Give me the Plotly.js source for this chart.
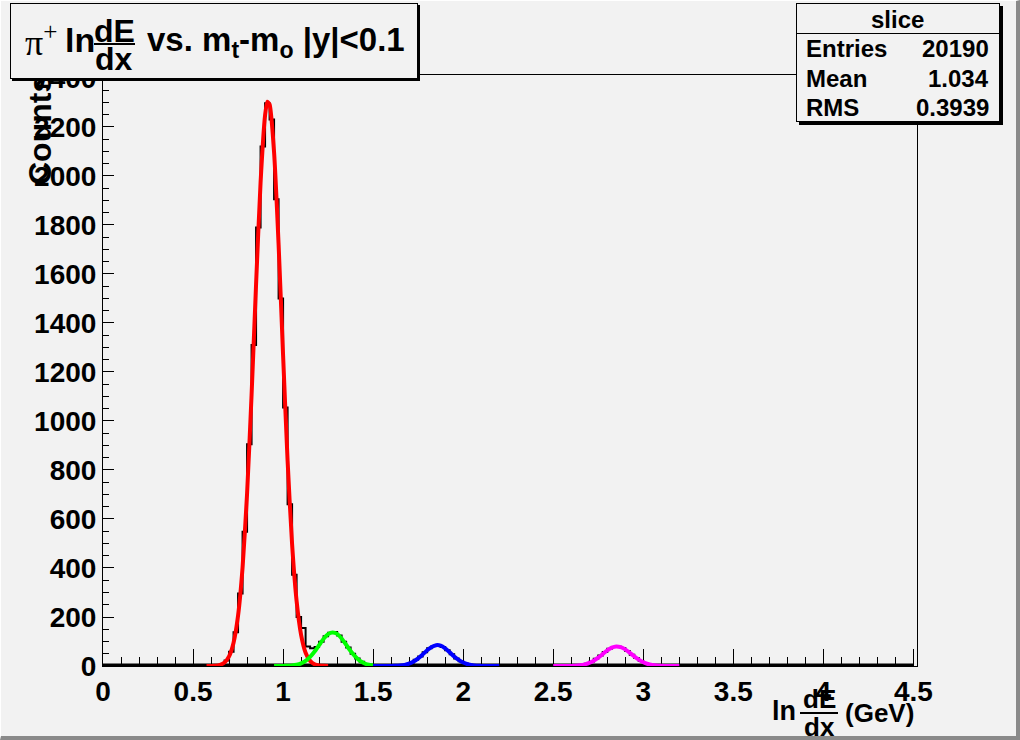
<!DOCTYPE html>
<html>
<head>
<meta charset="utf-8">
<script src="https://cdn.plot.ly/plotly-3.0.1.min.js"></script>
<style>
  html, body { margin:0; padding:0; background:#f2f2f2; }
  #wrap { position:relative; width:1020px; height:740px; overflow:hidden; }
  #chart { width:1020px; height:740px; }
  #bevel { position:absolute; left:0; top:0; width:1020px; height:740px; box-sizing:border-box;
           border-right:4px solid #8a8a8a; border-bottom:4px solid #8a8a8a;
           border-top:1px solid #ffffff; border-left:1px solid #ffffff; pointer-events:none; }
</style>
</head>
<body>
<div id="wrap"><div id="chart"></div><div id="bevel"></div></div>
<script>
// ---------------- data ----------------
// histogram "slice": bin width 0.025, counts for consecutive bins starting at histStart
const binWidth = 0.025;
const histStart = 0.5;
const histEnd = 4.5;
const histCounts = [
  0, 0, 0, 1, 1, 3, 7, 22, 58, 138,                 // 0.500 .. 0.725
  296, 548, 905, 1310, 1790, 2120, 2297, 2230, 1905, 1500, // 0.750 .. 0.975
  1055, 660, 372, 200, 155, 80, 72, 78, 99, 121,    // 1.000 .. 1.225
  136, 139, 124, 99, 76, 50, 31, 17, 8, 4,          // 1.250 .. 1.475
  2, 1, 0, 0, 1, 1, 3, 7, 13, 25,                   // 1.500 .. 1.725
  39, 56, 72, 82, 86, 78, 64, 48, 31, 19,           // 1.750 .. 1.975
  10, 5, 2, 1, 0, 0, 1, 0, 0, 1,                    // 2.000 .. 2.225
  0, 0, 1, 0, 0, 1, 0, 0, 1, 0,                     // 2.250 .. 2.475
  0, 1, 0, 0, 1, 2, 4, 9, 17, 30,                   // 2.500 .. 2.725
  43, 57, 70, 78, 79, 73, 61, 46, 33, 20,           // 2.750 .. 2.975
  11, 6, 3, 1, 1, 0, 0, 1, 0, 0                     // 3.000 .. 3.225
];

// Gaussian fit curves (sampled from the drawn curves)
const redX = [0.575,0.6,0.625,0.65,0.675,0.7,0.725,0.75,0.775,0.8,0.825,0.85,0.875,0.9,0.9125,0.925,0.95,0.975,1.0,1.025,1.05,1.075,1.1,1.125,1.15,1.175,1.2,1.225,1.25];
const redY = [0,0.4,1.4,4.8,14,39,95,206,402,703,1106,1559,1974,2248,2303,2292,2096,1721,1268,838,497,265,127,54,21,7,2.2,0.6,0.1];

const greenX = [0.95,0.975,1.0,1.025,1.05,1.075,1.1,1.125,1.15,1.175,1.2,1.225,1.25,1.275,1.3,1.325,1.35,1.375,1.4,1.425,1.45,1.475,1.5];
const greenY = [0,0.1,0.3,0.8,2.1,5,10.7,21,37,59,85,111,130,137,131,112,87,61,39,22,11,5,2.2];

const blueX = [1.5,1.525,1.55,1.575,1.6,1.625,1.65,1.675,1.7,1.725,1.75,1.775,1.8,1.825,1.85,1.875,1.9,1.925,1.95,1.975,2.0,2.025,2.05,2.075,2.1,2.125,2.15,2.175,2.2];
const blueY = [0,0,0,0.1,0.2,0.7,1.9,4.5,9.5,18,31,47,64,78,85,83,72,56,39,25,14,7,3.1,1.2,0.5,0.1,0,0,0];

const magentaX = [2.5,2.525,2.55,2.575,2.6,2.625,2.65,2.675,2.7,2.725,2.75,2.775,2.8,2.825,2.85,2.875,2.9,2.925,2.95,2.975,3.0,3.025,3.05,3.075,3.1,3.125,3.15,3.175,3.2];
const magentaY = [0,0,0.1,0.2,0.5,1.3,3.1,6.6,12.6,21.8,34,49,64,75,80,77,68,54,39,26,15,8,4,1.8,0.7,0.3,0.1,0,0];

const statsLabels = ["Entries", "Mean", "RMS"];
const statsValues = ["20190", "1.034", "0.3939"];
const statsName = "slice";

// ---------------- build histogram step line ----------------
const hx = [], hy = [];
const nBins = Math.round(histEnd / binWidth);
const startIdx = Math.round(histStart / binWidth);
for (let i = 0; i < nBins; i++) {
  const k = i - startIdx;
  const c = (k >= 0 && k < histCounts.length) ? histCounts[k] : 0;
  hx.push(+(i * binWidth).toFixed(4));
  hy.push(c);
}
hx.push(histEnd); hy.push(hy[hy.length - 1]);

// ---------------- layout helpers ----------------
const L = 103, R = 917, T = 75, B = 666;
const PW = R - L, PH = B - T;
const FONT = "Liberation Sans, Arial, Helvetica, sans-serif";
function px(x) { return (x - L) / PW; }
function py(y) { return (B - y) / PH; }
function txt(x, y, text, size, opts) {
  return Object.assign({
    xref: 'paper', yref: 'paper', x: px(x), y: py(y), text: text, showarrow: false,
    xanchor: 'center', yanchor: 'middle',
    font: { family: FONT, size: size, color: 'black', weight: 'bold' }
  }, opts || {});
}
function rect(left, top, right, bottom, bg, bw) {
  return {
    xref: 'paper', yref: 'paper', x: px(left), y: py(top), xanchor: 'left', yanchor: 'top',
    text: ' ', showarrow: false, font: { size: 1, family: FONT },
    width: Math.max(1, right - left - 2 * bw), height: Math.max(1, bottom - top - 2 * bw),
    bgcolor: bg, bordercolor: 'black', borderwidth: bw, borderpad: 0
  };
}

const annotations = [
  // y-axis title (partly hidden by the title box)
  txt(40, 73, 'Counts', 32, { textangle: -90, yanchor: 'top' }),
  // title box with shadow
  rect(12, 5, 420, 81, 'black', 0),
  rect(10, 3, 418, 79, '#f2f2f2', 1),
  txt(23, 41, 'π<sup>+</sup>', 34, { xanchor: 'left', font: { family: 'Liberation Serif, Times New Roman, serif', size: 36, color: 'black' } }),
  txt(63, 40, 'ln', 34, { xanchor: 'left' }),
  txt(114, 31, 'dE', 32),
  rect(94, 43, 135, 45, 'black', 0),
  txt(114, 59, 'dx', 32),
  txt(145, 42, 'vs. m<sub>t</sub>-m<sub>o</sub> |y|&lt;0.1', 33, { xanchor: 'left' }),
  // stats box with shadow
  rect(799, 6, 1003, 125, 'black', 0),
  rect(796, 3, 1000, 122, '#f2f2f2', 1),
  rect(796, 33, 1000, 34, 'black', 0),
  txt(897, 19, statsName, 24),
  // x-axis title
  txt(770, 711, 'ln', 27, { xanchor: 'left' }),
  txt(819, 699, 'dE', 26),
  txt(819, 727, 'dx', 26),
  txt(843, 713, '(GeV)', 26, { xanchor: 'left' })
];
const rowY = [49, 79, 108];
for (let i = 0; i < statsLabels.length; i++) {
  annotations.push(txt(804, rowY[i], statsLabels[i], 24, { xanchor: 'left' }));
  annotations.push(txt(991, rowY[i], statsValues[i], 24, { xanchor: 'right' }));
}

const shapes = [
  // fraction bar of the x-axis title
  { type: 'line', xref: 'paper', yref: 'paper', x0: px(800), x1: px(838), y0: py(713), y1: py(713),
    line: { color: 'black', width: 2 } },
  // thick zero line of the histogram along the x axis
  { type: 'line', xref: 'x', yref: 'paper', x0: 0, x1: 4.5, y0: py(665), y1: py(665),
    line: { color: 'black', width: 3 }, layer: 'below' }
];

const fitLine = (x, y, color) => ({
  x: x, y: y, type: 'scatter', mode: 'lines', line: { color: color, width: 4, shape: 'spline', smoothing: 0.6 },
  hoverinfo: 'skip', showlegend: false
});

const traces = [
  { x: hx, y: hy, type: 'scatter', mode: 'lines', line: { color: 'black', width: 2, shape: 'hv' },
    hoverinfo: 'skip', showlegend: false },
  fitLine(redX, redY, 'rgb(255,0,0)'),
  fitLine(greenX, greenY, 'rgb(0,255,0)'),
  fitLine(blueX, blueY, 'rgb(0,0,255)'),
  fitLine(magentaX, magentaY, 'rgb(255,0,255)')
];

const layout = {
  width: 1020, height: 740,
  margin: { l: L, r: 1020 - R, t: T, b: 740 - B, pad: 0 },
  paper_bgcolor: '#f2f2f2', plot_bgcolor: '#f2f2f2',
  showlegend: false,
  xaxis: {
    range: [0, 4.52], tickmode: 'linear', tick0: 0, dtick: 0.5,
    ticks: 'inside', ticklen: 17, tickwidth: 1, tickcolor: 'black',
    minor: { tickmode: 'linear', tick0: 0, dtick: 0.1, ticks: 'inside', ticklen: 9, tickcolor: 'black', tickwidth: 1 },
    showline: true, mirror: true, linecolor: 'black', linewidth: 1,
    showgrid: false, zeroline: false, layer: 'below traces',
    tickfont: { family: FONT, size: 28, color: 'black', weight: 'bold' }
  },
  yaxis: {
    range: [0, 2412], tickmode: 'linear', tick0: 0, dtick: 200,
    ticks: 'inside', ticklen: 11, tickwidth: 1, tickcolor: 'black',
    minor: { tickmode: 'linear', tick0: 0, dtick: 50, ticks: 'inside', ticklen: 6, tickcolor: 'black', tickwidth: 1 },
    showline: true, mirror: true, linecolor: 'black', linewidth: 1,
    showgrid: false, zeroline: false, layer: 'below traces',
    tickfont: { family: FONT, size: 28, color: 'black', weight: 'bold' }
  },
  annotations: annotations,
  shapes: shapes
};

Plotly.newPlot('chart', traces, layout, { staticPlot: true, displayModeBar: false });
</script>
</body>
</html>
